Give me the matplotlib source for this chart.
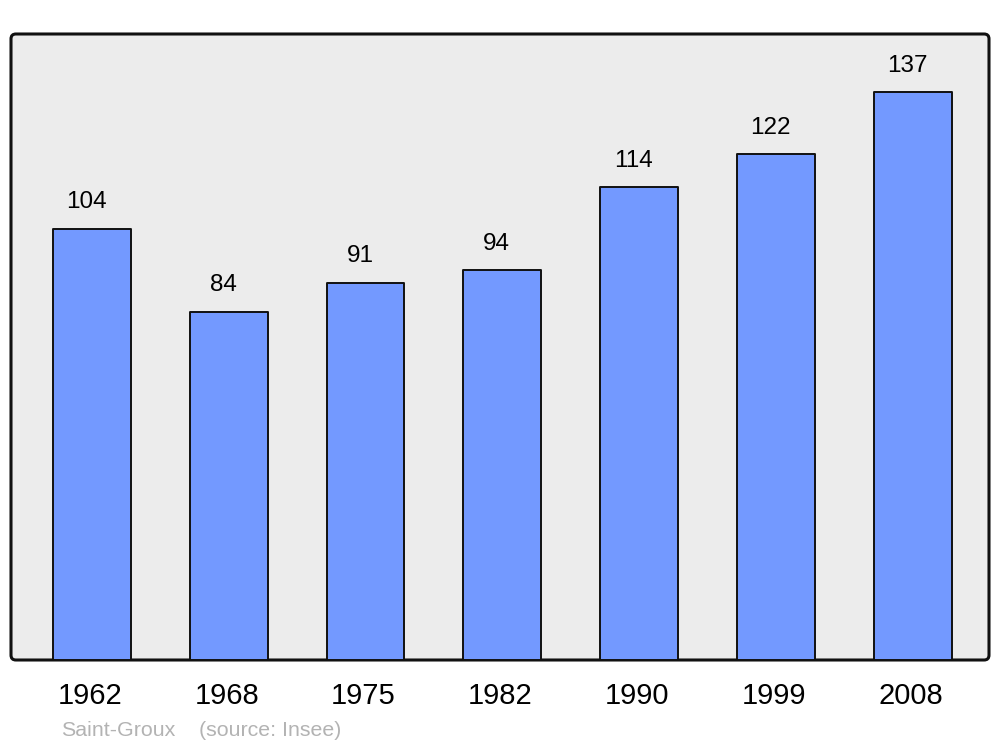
import matplotlib.pyplot as plt
from matplotlib.patches import FancyBboxPatch

years = ['1962', '1968', '1975', '1982', '1990', '1999', '2008']
population = [104, 84, 91, 94, 114, 122, 137]
commune = 'Saint-Groux'
source = '(source: Insee)'

plt.rcParams['font.family'] = ['Liberation Sans', 'DejaVu Sans']

fig = plt.figure(figsize=(10, 7.47), dpi=100)
ax = fig.add_axes([0.011, 87 / 747, 0.978, 626 / 747])
ax.set_facecolor('none')

# rounded frame behind the bars
frame = FancyBboxPatch((0, 0), 1, 1,
                       boxstyle='round,pad=0,rounding_size=0.005',
                       transform=ax.transAxes, facecolor='#ececec',
                       edgecolor='#111111', linewidth=2.2, zorder=0,
                       clip_on=False, mutation_aspect=978 / 626)
ax.add_patch(frame)

x = range(len(years))
bars = ax.bar(x, population, width=0.57, color='#7399ff',
              edgecolor='#111111', linewidth=1.4, zorder=2)
for b in bars:
    b.set_joinstyle('round')

for xi, v in zip(x, population):
    ax.annotate(str(v), (xi, v), xytext=(-4, 19), textcoords='offset points',
                ha='center', va='center', fontsize=17.5, color='black')

ax.set_xlim(-0.592, 6.559)
ax.set_ylim(0, 151)
ax.set_xticks([xi - 0.015 for xi in x])
ax.set_xticklabels(years, fontsize=21)
ax.tick_params(axis='x', length=0, pad=16)
ax.set_yticks([])
for s in ax.spines.values():
    s.set_visible(False)

fig.text(0.061, 1 - 731 / 747, commune, fontsize=15.4, color='#b3b3b3',
         ha='left', va='center')
fig.text(0.199, 1 - 731 / 747, source, fontsize=15.4, color='#b3b3b3',
         ha='left', va='center')

fig.savefig('out.png', dpi=100)
